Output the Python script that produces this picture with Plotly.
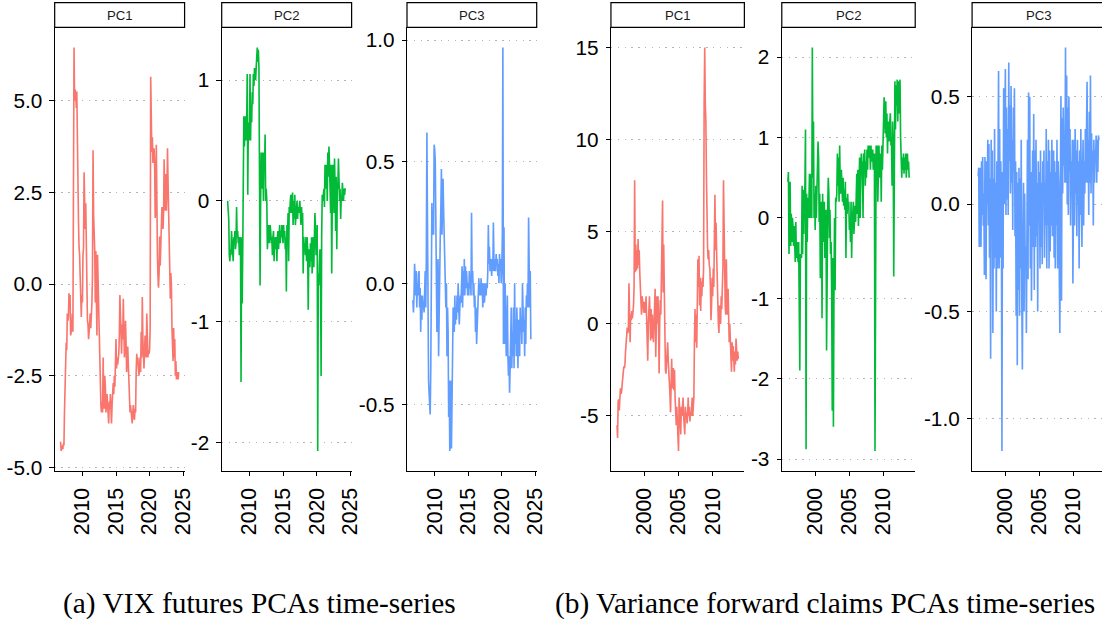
import pandas as pd
import plotly.graph_objects as go

# ---------------- data ----------------
vix_start = "2006-10-01"   # monthly observations
var_start = "1996-01-01"

vix_pc1 = [
    -4.3, -4.55, -4.4,
    -4.45, -4.5, -4.35, -4.4, -3.5, -2.6, -1.7, -1.6, -1.8, -0.8, -1.0, -0.9,
    -0.25, -0.4, -0.3, -1.4, -1.3, -1.2, -0.8, -1.3, 1.5, 6.45, 5.0, 5.3,
    5.2, 4.8, 5.25, 3.5, 1.8, 1.7, 1.0, 0.8, 0.2, -0.2, -0.9, -0.3,
    -0.5, 0.8, 1.0, 3.05, 2.3, 1.5, 2.2, 0.5, -0.3, -1.0, -1.1, -1.5,
    -1.3, -1.0, -0.8, -1.2, -0.9, -0.5, 0.2, 3.65, 1.9, 1.5, 0.9, -0.5,
    0.9, -0.5, -1.4, 0.8, 0.0, -0.6, -1.4, -2.2, -2.5, -3.3, -3.5, -3.2,
    -3.5, -2.0, -3.0, -3.4, -2.5, -2.8, -3.5, -3.2, -3.0, -3.3, -3.5, -3.8,
    -3.2, -3.4, -3.0, -3.6, -3.8, -3.3, -3.0, -2.7, -3.0, -2.5, -2.8, -2.0,
    -1.5, -2.3, -2.0, -2.2, -2.0, -1.9, -1.4, -0.3, -0.8, -1.6, -1.9, -1.1,
    -1.5, -0.4, -1.3, -2.0, -1.8, -1.0, -1.6, -2.4, -2.0, -1.7, -2.2, -2.6,
    -3.0, -3.5, -3.3, -3.5, -3.7, -3.8, -3.5, -3.3, -3.6, -3.7, -3.4, -3.5,
    -2.4, -1.9, -2.2, -2.0, -2.3, -2.5, -2.3, -2.0, -2.4, -1.3, -2.0, -0.35,
    -1.5, -2.0, -2.3, -1.9, -1.4, -1.8, -2.0, -0.8, -1.4, -2.0, -1.8, -1.9,
    -1.8, -1.2, 5.65, 4.2, 3.6, 4.0, 3.3, 3.5, 3.7, 3.3, 1.8, 2.0,
    3.8, 1.0, 0.8, 0.2, -0.1, 0.3, 1.3, 0.5, 1.0, 1.5, 2.1, 1.8,
    1.5, 2.0, 3.4, 2.5, 2.0, 3.0, 2.0, 2.5, 3.7, 2.8, 2.1, 1.5,
    0.5, -0.4, 0.3, 0.0, -1.2, -2.0, -2.1, -1.2, -2.0, -1.5, -2.5, -2.1,
    -2.6, -2.5, -2.4, -2.6, -2.4,
]

vix_pc2 = [
    0.0, -0.1, -0.15,
    -0.45, -0.5, -0.4, -0.45, -0.25, -0.35, -0.5, -0.5, -0.3, -0.35, -0.25, -0.4,
    -0.35, -0.05, -0.3, -0.25, -0.35, -0.3, -0.45, -0.3, -0.35, -1.5, -0.3, -0.85,
    -0.4, 0.65, 0.7, 0.45, 0.65, 0.7, 0.5, 0.6, 1.05, 0.05, 0.65, 0.5,
    0.6, 1.05, 0.5, 0.8, 0.65, 0.9, 0.8, 1.05, 0.95, 1.1, 1.05, 1.0,
    1.1, 1.2, 1.27, 1.15, 1.25, 1.1, 0.2, -0.7, 0.0, 0.4, 0.1, 0.4,
    0.3, 0.0, 0.4, 0.25, 0.55, 0.0, 0.1, 0.0, -0.4, -0.3, -0.2, -0.35,
    -0.3, -0.2, -0.25, -0.35, -0.3, -0.45, -0.3, -0.25, -0.5, -0.3, -0.4, -0.3,
    -0.35, -0.5, -0.3, -0.25, -0.4, -0.3, -0.2, -0.35, -0.25, -0.3, -0.2, -0.3,
    -0.35, -0.2, -0.3, -0.25, -0.4, -0.3, -0.75, -0.2, -0.3, -0.1, -0.5, -0.05,
    -0.1, 0.0, 0.05, -0.1, -0.05, 0.07, -0.2, 0.0, -0.15, 0.05, -0.2, -0.1,
    -0.05, 0.0, -0.15, -0.05, -0.1, -0.05, 0.0, -0.1, -0.2, -0.05, -0.15, -0.1,
    -0.6, -0.3, -0.4, -0.35, -0.45, -0.3, -0.5, -0.3, -0.4, -0.9, -0.4, -0.5,
    -0.55, -0.35, -0.5, -0.3, -0.6, -0.4, -0.3, -0.55, -0.4, -0.1, -0.25, -0.45,
    -0.4, -0.2, -2.07, -0.6, -0.7, -0.5, -0.4, -0.6, -1.45, -0.3, 0.05, 0.0,
    0.05, 0.1, -0.05, 0.3, 0.1, 0.2, 0.3, 0.0, 0.4, 0.2, 0.45, 0.3,
    0.1, -0.1, 0.3, -0.6, 0.0, 0.3, 0.2, -0.1, 0.35, 0.1, -0.25, 0.2,
    -0.4, 0.15, 0.1, 0.35, 0.2, 0.0, 0.1, -0.15, 0.05, 0.0, 0.15, 0.1,
    0.0, 0.1, 0.05, 0.1, 0.1,
]

vix_pc3 = [
    -0.07, -0.12, -0.05,
    0.08, 0.02, -0.05, 0.05, -0.1, 0.0, -0.05, 0.04, 0.05, -0.1, -0.02, -0.2,
    -0.05, -0.15, -0.05, -0.1, -0.08, -0.12, -0.05, 0.05, -0.1, 0.1, 0.62, 0.1,
    -0.1, -0.4, -0.45, -0.53, -0.54, -0.35, 0.0, 0.33, 0.2, 0.3, 0.2, 0.57,
    0.55, 0.5, 0.35, 0.1, -0.2, 0.05, 0.1, -0.3, -0.05, 0.0, 0.2, 0.3,
    0.47, 0.2, 0.35, 0.43, 0.3, 0.18, 0.05, -0.05, -0.1, 0.0, -0.3, -0.1,
    -0.2, -0.55, -0.4, -0.69, -0.6, -0.4, -0.68, -0.5, -0.3, -0.1, -0.15, -0.2,
    -0.05, -0.17, -0.1, -0.15, -0.05, -0.12, 0.0, -0.08, -0.17, -0.1, -0.05, -0.08,
    0.0, 0.07, -0.1, 0.05, -0.05, 0.1, -0.05, 0.07, -0.02, 0.05, 0.0, -0.05,
    0.0, -0.05, 0.05, -0.02, 0.03, -0.05, 0.29, 0.0, 0.05, -0.05, 0.0, -0.1,
    -0.05, -0.2, -0.1, -0.25, -0.2, -0.15, -0.05, 0.02, -0.05, 0.0, -0.05, 0.02,
    -0.05, 0.0, -0.1, -0.05, 0.0, -0.08, -0.03, 0.0, -0.05, 0.0, -0.02, 0.05,
    0.24, 0.08, 0.15, 0.05, 0.1, 0.08, 0.03, 0.1, 0.05, 0.25, 0.1, 0.05,
    0.1, 0.05, 0.12, 0.08, 0.1, 0.03, 0.08, 0.0, 0.12, 0.05, 0.1, 0.0,
    0.05, 0.2, 0.97, -0.25, 0.23, -0.25, 0.0, -0.2, -0.3, -0.25, -0.05, -0.3,
    -0.38, -0.3, -0.45, -0.35, -0.25, -0.1, -0.35, -0.2, -0.3, -0.1, -0.35, 0.0,
    -0.25, -0.15, -0.3, -0.1, -0.2, -0.35, -0.15, -0.25, -0.3, -0.1, -0.2, -0.15,
    -0.25, 0.0, -0.1, -0.2, -0.15, -0.3, -0.1, -0.25, -0.05, -0.1, 0.0, -0.1,
    0.27, 0.1, -0.1, 0.05, -0.23,
]

var_pc1 = [
    -5.5, -6.2, -4.2, -4.1, -4.7, -4.0, -3.5, -3.8, -3.7, -3.3, -3.0, -2.5,
    -2.3, -2.4, -2.2, -1.5, -1.2, -0.6, -0.2, -0.5, -0.3, 2.2, -0.3, -1.0,
    0.5, 0.2, 0.7, 0.3, 0.6, 1.0, 2.0, 7.8, 2.8, 4.3, 2.9, 4.0,
    3.0, 4.6, 3.2, 4.0, 2.8, 2.0, 1.5, 0.5, 1.5, 1.3, 1.0, 0.6,
    1.2, 0.8, 0.6, 1.5, 0.5, -0.5, -2.0, 0.0, 0.8, 1.5, 0.3, -0.9,
    0.8, -0.8, 0.5, -0.5, -1.0, 0.0, 0.8, 1.9, -1.8, 0.2, 1.5, 0.0,
    1.5, -0.3, -2.7, 0.0, 1.3, 0.5, 2.0, 3.5, 6.7, 1.7, 4.3, 2.0,
    -1.5, -2.5, -2.7, -2.0, -1.5, -1.0, -2.0, -2.5, -3.2, -3.8, -4.8, -2.8,
    -1.9, -3.5, -3.0, -2.4, -3.6, -2.5, -4.0, -5.0, -5.5, -4.5, -5.2, -6.0,
    -6.9, -4.0, -5.0, -5.5, -6.0, -4.5, -5.0, -4.5, -4.0, -5.0, -5.5, -6.0,
    -4.5, -5.0, -4.8, -5.4, -5.0, -4.0, -5.0, -4.5, -5.3, -4.8, -5.0, -4.5,
    -4.0, -5.0, -4.5, -4.0, -1.0, 0.8, -1.0, 0.5, -1.3, 2.6, 3.5, 2.0,
    3.7, 1.0, 2.5, 0.7, 2.3, 1.5, 2.5, 2.0, 3.0, 12.0, 15.0, 12.0,
    11.0, 8.0, 5.0, 4.2, 3.5, 4.0, 3.2, 3.0, 2.0, 0.2, 1.0, 2.5,
    1.5, 3.0, 2.0, 5.0, 7.0, 4.0, 5.5, 3.8, 2.5, 0.2, 0.0, -0.5,
    1.0, 0.5, 0.0, 1.5, 0.8, 2.0, 3.0, 7.8, 5.0, 2.0, 1.0, 0.5,
    3.5, 1.5, 0.5, 1.9, 0.5, -1.0, 0.0, -1.0, -2.2, -2.6, -1.0, -2.0,
    -1.2, -2.0, -2.6, -1.5, -2.2, -0.8, -1.2, -2.0, -1.5, -1.9,
]

var_pc2 = [
    0.45, 0.57, -0.45, 0.1, 0.45, -0.35, 0.05, -0.3, 0.0, -0.1, -0.35, -0.1,
    -0.4, -0.55, -0.05, -0.5, -0.3, -0.4, -0.55, -0.3, -0.9, -1.9, -0.45, -0.5,
    -0.5, 0.4, -0.45, 0.35, -0.2, 0.3, 0.4, 1.1, -2.88, 0.3, -0.3, 0.25,
    0.0, 0.2, 0.55, 0.0, 0.3, 0.55, 0.0, 2.12, 0.5, 1.2, 0.0, 0.3,
    -0.15, 0.4, 0.0, 0.3, 0.6, 0.95, 0.75, -0.05, 0.3, -0.75, -0.1, 0.2,
    -1.25, 0.3, -0.1, -0.3, 0.2, -0.5, 0.0, 0.1, -1.65, 0.0, 0.15, 0.5,
    0.3, -0.25, 0.1, -0.45, -0.3, -0.95, -2.4, -0.5, -2.6, -0.9, 0.0, -0.9,
    0.25, 0.2, 0.3, 0.8, 0.4, 0.75, 0.2, 0.9, 0.4, 0.3, 0.6, 0.45,
    0.2, 0.5, 0.15, 0.35, 0.1, 0.45, -0.5, 0.25, 0.05, 0.3, 0.1, 0.2,
    -0.15, 0.0, -0.3, 0.2, -0.5, -0.1, 0.1, 0.2, -0.2, 0.0, 0.15, -0.05,
    0.2, 0.55, 0.05, 0.6, -0.1, 0.3, 0.75, 0.0, 0.5, 0.8, 0.6, 0.7,
    0.0, 0.8, 0.6, 0.85, 0.4, 0.7, 0.5, 0.85, 0.6, 0.9, 0.75, 0.9,
    0.85, 0.6, 0.9, 0.7, 0.75, 0.85, 0.6, 0.75, 0.8, -2.9, 0.8, 0.9,
    0.75, 0.9, 0.2, 0.85, 0.9, 0.5, 0.6, 0.8, 0.2, 0.9, 0.6, 1.0,
    1.05, 1.5, 1.35, 1.05, 1.45, 1.0, 1.3, 0.8, 1.2, 1.1, 0.95, 1.2,
    1.3, 0.9, 1.0, 0.4, 1.2, 0.9, -0.73, 0.5, 1.7, 1.1, 1.65, 1.4,
    1.72, 1.2, 1.7, 1.3, 1.65, 1.72, 1.0, 0.7, 0.5, 0.75, 0.6, 0.8,
    0.55, 0.75, 0.6, 0.8, 0.5, 0.65, 0.8, 0.6, 0.7, 0.5,
]

var_pc3 = [
    0.13, 0.17, -0.2, 0.17, -0.1, -0.2, 0.2, -0.05, 0.22, -0.1, 0.05, -0.33,
    0.22, -0.05, -0.35, 0.2, 0.0, 0.3, -0.1, 0.28, -0.25, 0.12, -0.72, 0.3,
    -0.1, 0.25, -0.6, 0.12, -0.3, 0.35, -0.25, 0.1, -0.5, 0.2, -0.3, 0.15,
    0.62, -0.3, 0.35, -0.25, 0.2, -0.05, -1.15, 0.15, -0.3, 0.54, 0.0, 0.35,
    0.63, -0.05, 0.45, 0.02, 0.35, -0.05, 0.66, 0.2, 0.46, 0.05, 0.55, 0.1,
    0.3, -0.12, 0.45, 0.15, 0.54, -0.15, 0.2, -0.52, 0.15, -0.75, 0.1, -0.4,
    0.17, -0.52, 0.12, -0.3, 0.3, -0.45, -0.77, -0.2, 0.1, -0.5, 0.05, -0.3,
    -0.2, -0.6, -0.1, 0.3, -0.35, 0.52, -0.1, 0.5, -0.3, 0.15, -0.45, 0.1,
    0.25, -0.2, 0.42, -0.4, 0.25, -0.2, 0.3, -0.15, 0.1, -0.5, 0.2, -0.05,
    0.15, -0.3, 0.25, -0.2, 0.1, -0.28, 0.2, 0.0, 0.25, -0.25, 0.1, -0.1,
    0.35, -0.3, 0.2, -0.1, 0.3, -0.3, 0.25, -0.22, 0.15, -0.1, 0.3, -0.15,
    -0.05, 0.25, -0.25, 0.2, -0.3, 0.15, -0.1, 0.3, -0.3, 0.2, 0.1, -0.3,
    -0.6, 0.1, 0.5, -0.45, 0.4, 0.05, 0.45, 0.18, 0.3, 0.1, 0.73, 0.1,
    0.6, 0.0, 0.45, -0.05, 0.5, 0.15, 0.35, -0.1, 0.2, 0.05, 0.3, -0.37,
    0.15, 0.3, -0.1, 0.35, 0.05, 0.25, -0.15, 0.3, 0.0, 0.2, -0.3, 0.25,
    -0.05, 0.35, 0.0, -0.2, 0.15, 0.3, -0.1, 0.2, 0.05, 0.35, 0.1, 0.5,
    0.57, 0.1, 0.3, -0.05, 0.43, 0.1, 0.6, 0.05, 0.33, 0.15, 0.25, -0.1,
    0.3, 0.1, 0.25, 0.2, 0.32, 0.1, 0.3, 0.15, 0.32, 0.3,
]

panel_titles = ["PC1", "PC2", "PC3"]
series_colors = ["#F8766D", "#00BA38", "#619CFF"]

vix_y_ticks = [[-5, -2.5, 0, 2.5, 5], [-2, -1, 0, 1], [-0.5, 0, 0.5, 1.0]]
vix_y_labels = [["-5.0", "-2.5", "0.0", "2.5", "5.0"], ["-2", "-1", "0", "1"],
                ["-0.5", "0.0", "0.5", "1.0"]]
var_y_ticks = [[-5, 0, 5, 10, 15], [-3, -2, -1, 0, 1, 2], [-1.0, -0.5, 0, 0.5]]
var_y_labels = [["-5", "0", "5", "10", "15"], ["-3", "-2", "-1", "0", "1", "2"],
                ["-1.0", "-0.5", "0.0", "0.5"]]
vix_x_years = ["2010", "2015", "2020", "2025"]
var_x_years = ["2000", "2005", "2010"]

caption_a = "(a) VIX futures PCAs time-series"
caption_b = "(b) Variance forward claims PCAs time-series"

# ---------------- layout ----------------
K = 1 / 0.987                 # the photographed page comes out ~1.3% smaller
W, H = round(1102 * K), round(623 * K)
panel_px = [(54.5, 184), (221, 350.5), (405.7, 535), (609, 742), (779.3, 912.3), (969, 1101.5)]
top_px, bottom_px = 27.3, 471
strip_top_px = 2.7
SANS = "Liberation Sans, Arial, Helvetica, sans-serif"
SERIF = "Liberation Serif, Times New Roman, serif"


def fx(px):
    return px * K / W


def fy(py):
    return 1 - py * K / H


def expand(lo, hi, f=0.05):
    d = (hi - lo) * f
    return lo - d, hi + d


panels = []
for vals, c, t, yt, yl in zip([vix_pc1, vix_pc2, vix_pc3], series_colors, panel_titles,
                               vix_y_ticks, vix_y_labels):
    panels.append(dict(start=vix_start, vals=vals, color=c, title=t, yt=yt, yl=yl, xy=vix_x_years))
for vals, c, t, yt, yl in zip([var_pc1, var_pc2, var_pc3], series_colors, panel_titles,
                               var_y_ticks, var_y_labels):
    panels.append(dict(start=var_start, vals=vals, color=c, title=t, yt=yt, yl=yl, xy=var_x_years))

fig = go.Figure()
shapes, annotations = [], []
layout = {}

for i, (p, (lpx, rpx)) in enumerate(zip(panels, panel_px), start=1):
    dates = pd.date_range(p["start"], periods=len(p["vals"]), freq="MS")
    fig.add_trace(go.Scatter(x=dates, y=p["vals"], mode="lines",
                             line=dict(color=p["color"], width=1.6 * K),
                             xaxis=f"x{i}", yaxis=f"y{i}", showlegend=False,
                             hoverinfo="skip"))
    span = dates[-1] - dates[0]
    xr = [dates[0] - span * 0.05, dates[-1] + span * 0.05]
    yr = list(expand(min(p["vals"]), max(p["vals"])))
    dom_x = [fx(lpx), min(fx(rpx), 1.0)]
    dom_y = [fy(bottom_px), fy(top_px)]
    layout[f"xaxis{i}"] = dict(
        domain=dom_x, anchor=f"y{i}", type="date", range=xr,
        tickvals=[f"{y}-01-01" for y in p["xy"]], ticktext=p["xy"],
        tickangle=-90, ticks="outside", ticklen=4 * K, tickwidth=1.2 * K, tickcolor="black",
        ticklabelstandoff=3,
        showline=True, linecolor="black", linewidth=1.3 * K, showgrid=False, zeroline=False,
        tickfont=dict(family=SANS, size=21 * K, color="black"), fixedrange=True,
    )
    layout[f"yaxis{i}"] = dict(
        domain=dom_y, anchor=f"x{i}", range=yr,
        tickvals=p["yt"], ticktext=p["yl"],
        ticks="outside", ticklen=4 * K, tickwidth=1.2 * K, tickcolor="black",
        ticklabelstandoff=3,
        showline=True, linecolor="black", linewidth=1.3 * K,
        showgrid=True, gridcolor="#b5b5b5", gridwidth=1.2, griddash="1.5px,5.3px",
        zeroline=False, tickfont=dict(family=SANS, size=20.5 * K, color="black"), fixedrange=True,
    )
    # facet strip
    shapes.append(dict(type="rect", xref="paper", yref="paper",
                       x0=fx(lpx), x1=fx(rpx), y0=fy(top_px), y1=fy(strip_top_px),
                       line=dict(color="black", width=1.2 * K), fillcolor="white", layer="above"))
    annotations.append(dict(text=p["title"], xref="paper", yref="paper",
                            x=fx((lpx + rpx) / 2), y=fy((top_px + strip_top_px) / 2),
                            xanchor="center", yanchor="middle", showarrow=False,
                            font=dict(family=SANS, size=13 * K, color="#1a1a1a")))

annotations.append(dict(text=caption_a, xref="paper", yref="paper", x=fx(258.5), y=fy(603),
                        xanchor="center", yanchor="middle", showarrow=False,
                        font=dict(family=SERIF, size=29 * K, color="black")))
annotations.append(dict(text=caption_b, xref="paper", yref="paper", x=fx(822.5), y=fy(603),
                        xanchor="center", yanchor="middle", showarrow=False,
                        font=dict(family=SERIF, size=29 * K, color="black")))

fig.update_layout(
    width=W, height=H, margin=dict(l=0, r=0, t=0, b=0),
    paper_bgcolor="white", plot_bgcolor="white",
    shapes=shapes, annotations=annotations, showlegend=False,
    **layout,
)

fig.write_html("out.html", config={"displayModeBar": False},
               post_script="document.body.style.margin='0';"
                           "document.documentElement.style.overflow='hidden';"
                           "document.body.style.overflow='hidden';")
